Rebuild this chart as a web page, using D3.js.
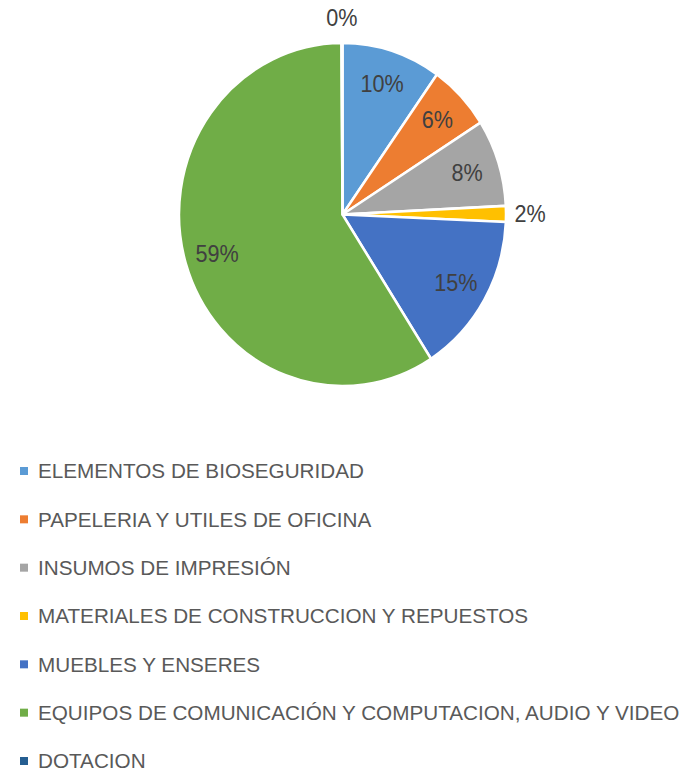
<!DOCTYPE html>
<html>
<head>
<meta charset="utf-8">
<script src="https://cdn.jsdelivr.net/npm/d3@7"></script>
<style>
    body { margin: 0; background: #fff; }
    text { font-family: "Liberation Sans Narrow", "Liberation Sans", sans-serif; }
</style>
</head>
<body>
<div class="chart"></div>
<script>
const categories = [
    "ELEMENTOS DE BIOSEGURIDAD",
    "PAPELERIA Y UTILES DE OFICINA",
    "INSUMOS DE IMPRESIÓN",
    "MATERIALES DE CONSTRUCCION Y REPUESTOS",
    "MUEBLES Y ENSERES",
    "EQUIPOS DE COMUNICACIÓN Y COMPUTACION, AUDIO Y VIDEO",
    "DOTACION"
]
const values = [9.8, 6.2, 8.2, 1.5, 15.2, 59.0, 0.1]
const colors = ["#5B9BD5", "#ED7D31", "#A5A5A5", "#FFC000", "#4472C4", "#70AD47", "#255E91"]
// labels placed outside the slice (too thin to hold text)
const outside = ["DOTACION", "MATERIALES DE CONSTRUCCION Y REPUESTOS"]

let dimensions = {
    width: 690,
    height: 771,
    cx: 342.5,
    cy: 214.5,
    radius: 163.5,
    stretchY: 1.049
}

const data = categories.map((c, i) => ({ name: c, value: values[i] }))
const total = d3.sum(values)

const wrapper = d3.select(".chart")
    .append("svg")
    .attr("width", dimensions.width)
    .attr("height", dimensions.height)

const color = d3.scaleOrdinal()
    .domain(categories)
    .range(colors)

const pie = d3.pie()
    .value(d => d.value)
    .sort(null)

const arcs = pie(data)

const arc = d3.arc()
    .innerRadius(0)
    .outerRadius(dimensions.radius)

const labelArc = d3.arc()
    .innerRadius(dimensions.radius * 0.8)
    .outerRadius(dimensions.radius * 0.8)

const outerArc = d3.arc()
    .innerRadius(dimensions.radius + 24)
    .outerRadius(dimensions.radius + 24)

// the picture is slightly taller than wide, so stretch the slices only
const slices = wrapper.append("g")
    .attr("transform", `translate(${dimensions.cx},${dimensions.cy}) scale(1,${dimensions.stretchY})`)

slices.selectAll("path")
    .data(arcs)
    .enter()
    .append("path")
      .attr("d", arc)
      .attr("fill", d => color(d.data.name))
      .attr("stroke", "#fff")
      .attr("stroke-width", 2.5)
      .attr("stroke-linejoin", "round")

// percentage labels (squeezed a bit to look like the narrow original font)
const fmt = d3.format(".0%")
const labels = wrapper.append("g")
    .attr("transform", `translate(${dimensions.cx},${dimensions.cy})`)

labels.selectAll("text")
    .data(arcs)
    .enter()
    .append("text")
      .attr("transform", d => {
          const [x, y] = outside.includes(d.data.name) ? outerArc.centroid(d) : labelArc.centroid(d)
          return `translate(${x},${y * dimensions.stretchY}) scale(0.9,1)`
      })
      .attr("text-anchor", "middle")
      .attr("dominant-baseline", "central")
      .attr("font-size", 24)
      .attr("fill", "#404040")
      .text(d => fmt(d.data.value / total))

// legend
const legendY = d3.scalePoint()
    .domain(categories)
    .range([471, 761])

const legend = wrapper.append("g")

const rows = legend.selectAll("g")
    .data(categories)
    .enter()
    .append("g")
      .attr("transform", d => `translate(0,${legendY(d)})`)

rows.append("rect")
    .attr("x", 20)
    .attr("y", -4)
    .attr("width", 8)
    .attr("height", 8)
    .attr("fill", d => color(d))

const legendText = rows.append("text")
    .attr("dominant-baseline", "central")
    .attr("font-size", 20.5)
    .attr("fill", "#595959")
    .text(d => d)

// squeeze horizontally so the longest entry ends where it does in the picture (38 -> 680)
const longest = d3.max(legendText.nodes(), n => n.getComputedTextLength())
legendText.attr("transform", `translate(38,0) scale(${642 / longest},1)`)
</script>
</body>
</html>
